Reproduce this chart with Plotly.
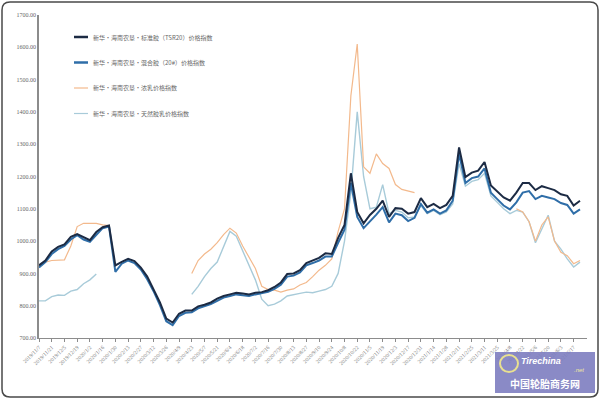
import pandas as pd
import plotly.graph_objects as go

# ---------------- data (weekly samples) ----------------
dates = pd.date_range("2019-11-07", periods=86, freq="7D")
categories = [f"{d.year}/{d.month}/{d.day}" for d in dates]
tick_labels = categories[::2]

series_names = [
    "新华·海南农垦·标准胶（TSR20）价格指数",
    "新华·海南农垦·混合胶（20#）价格指数",
    "新华·海南农垦·浓乳价格指数",
    "新华·海南农垦·天然胶乳价格指数",
]

tsr20 = [925, 940, 968, 982, 990, 1013, 1022, 1012, 1003, 1028,
         1043, 1048, 925, 936, 945, 938, 918, 890, 852, 810,
         760, 748, 775, 785, 785, 798, 803, 810, 822, 830,
         835, 840, 838, 835, 840, 842, 848, 858, 872, 898,
         900, 910, 932, 940, 948, 962, 960, 1010, 1050, 1210,
         1090, 1055, 1081, 1100, 1125, 1075, 1102, 1100, 1085, 1090,
         1133, 1105, 1115, 1102, 1112, 1140, 1290, 1198, 1212, 1218,
         1245, 1172, 1152, 1135, 1125, 1150, 1180, 1180, 1158, 1170,
         1164, 1158, 1145, 1140, 1110, 1125]

mix20 = [918, 935, 960, 975, 985, 1005, 1018, 1005, 998, 1020,
         1040, 1045, 905, 930, 940, 932, 912, 882, 845, 802,
         752, 740, 768, 778, 780, 792, 798, 805, 815, 825,
         830, 835, 832, 830, 835, 838, 843, 852, 865, 890,
         893, 903, 925, 932, 940, 952, 952, 995, 1035, 1180,
         1075, 1040, 1060, 1082, 1105, 1058, 1085, 1080, 1062, 1072,
         1115, 1088, 1098, 1085, 1095, 1125, 1270, 1180, 1195, 1200,
         1225, 1150, 1130, 1110, 1098, 1120, 1150, 1155, 1130, 1140,
         1135, 1130, 1118, 1112, 1085, 1098]

latex = [925, 935, 940, 940, 942, 985, 1045, 1055, 1055, 1055,
         1050, 1048, None, None, None, None, None, None, None, None,
         None, None, None, None, 900, 940, 960, 975, 995, 1020,
         1040, 1025, 985, 950, 915, 860, 850, 848, 842, 848,
         852, 864, 872, 890, 910, 925, 945, 1030, 1100, 1450,
         1610, 1230, 1210, 1270, 1240, 1225, 1175, 1160, 1155, 1150,
         None, None, None, None, None, None, None, None, None, None,
         None, None, None, None, None, 1100, 1090, 1060, 1000, 1050,
         1075, 1000, 965, 955, 930, 940]

nat_latex = [815, 815, 828, 833, 832, 845, 850, 868, 880, 898,
             None, None, None, None, None, None, None, None, None, None,
             None, None, None, None, 835, 860, 890, 915, 935, 980,
             1030, 1015, 970, 930, 880, 820, 800, 805, 815, 830,
             835, 838, 842, 840, 845, 850, 860, 900, 1000, 1150,
             1400, 1200, 1100, 1105, 1175, 1085, 1095, 1090, 1072, 1075,
             1110, 1085, 1095, 1082, 1090, 1115, 1240, 1170, 1185, 1190,
             1210, 1140, 1120, 1100, 1085, 1095, 1090, 1060, 995, 1040,
             1080, 1000, 975, 945, 920, 935]

y_ticks = [700, 800, 900, 1000, 1100, 1200, 1300, 1400, 1500, 1600, 1700]

# ---------------- styling ----------------
colors = ["#1c2b44", "#2f6ea8", "#f3b98c", "#a8cbd9"]
widths = [2.0, 2.0, 1.2, 1.4]

W, H = 600, 399
L, R, T, B = 39, 587, 15, 338

def px(x):
    return (x - L) / (R - L)

def py(y):
    return (B - y) / (B - T)

fig = go.Figure()
order = [3, 2, 1, 0]
all_series = [tsr20, mix20, latex, nat_latex]
for i in order:
    fig.add_trace(go.Scatter(
        x=categories, y=all_series[i], mode="lines", name=series_names[i],
        line=dict(color=colors[i], width=widths[i]), showlegend=False,
        hoverinfo="x+y+name"))

shapes = []
annotations = []
# manual legend
for i, name in enumerate(series_names):
    yy = 37 + 25.5 * i
    shapes.append(dict(type="line", xref="paper", yref="paper",
                       x0=px(74), x1=px(88), y0=py(yy), y1=py(yy),
                       line=dict(color=colors[i], width=2.5 if i < 2 else 1.2)))
    annotations.append(dict(xref="paper", yref="paper", x=px(91), y=py(yy),
                            xanchor="left", yanchor="middle", showarrow=False,
                            text=name, font=dict(size=6, color="#666666",
                                                 family="Noto Sans CJK SC")))

# outer rounded frame
x0, x1, y0, y1, r = 2, 598, 2, 397, 8
path = (f"M {px(x0 + r)},{py(y0)} L {px(x1 - r)},{py(y0)} "
        f"Q {px(x1)},{py(y0)} {px(x1)},{py(y0 + r)} "
        f"L {px(x1)},{py(y1 - r)} Q {px(x1)},{py(y1)} {px(x1 - r)},{py(y1)} "
        f"L {px(x0 + r)},{py(y1)} Q {px(x0)},{py(y1)} {px(x0)},{py(y1 - r)} "
        f"L {px(x0)},{py(y0 + r)} Q {px(x0)},{py(y0)} {px(x0 + r)},{py(y0)} Z")
shapes.append(dict(type="path", xref="paper", yref="paper", path=path,
                   line=dict(color="#4a4a4a", width=1.5), layer="above"))

# watermark box
shapes.append(dict(type="rect", xref="paper", yref="paper",
                   x0=px(495), x1=px(595), y0=py(393), y1=py(352),
                   fillcolor="rgba(125,125,192,0.9)", line=dict(width=0),
                   layer="above"))
shapes.append(dict(type="circle", xref="paper", yref="paper",
                   x0=px(500), x1=px(518), y0=py(372), y1=py(355),
                   line=dict(color="#e8e090", width=2), layer="above"))
annotations.append(dict(xref="paper", yref="paper", x=px(519), y=py(361),
                        xanchor="left", yanchor="middle", showarrow=False,
                        text="<i><b>Tirechina</b></i>",
                        font=dict(size=9, color="white", family="Liberation Sans")))
annotations.append(dict(xref="paper", yref="paper", x=px(572), y=py(370),
                        xanchor="left", yanchor="middle", showarrow=False,
                        text="<i>.net</i>",
                        font=dict(size=6, color="#f0e8a0", family="Liberation Sans")))
annotations.append(dict(xref="paper", yref="paper", x=px(545), y=py(383),
                        xanchor="center", yanchor="middle", showarrow=False,
                        text="<b>中国轮胎商务网</b>",
                        font=dict(size=10, color="white", family="Noto Sans CJK SC")))

fig.update_layout(
    width=W, height=H,
    margin=dict(l=L, r=W - R, t=T, b=H - B),
    paper_bgcolor="white", plot_bgcolor="white",
    shapes=shapes, annotations=annotations,
    font=dict(family="Liberation Serif", color="#666666"),
)
fig.update_xaxes(
    type="category", range=[0, 86.1],
    tickmode="array", tickvals=tick_labels, ticktext=tick_labels,
    tickangle=-45, tickfont=dict(size=5.5, color="#777777"),
    showgrid=False, zeroline=False,
    showline=True, linecolor="#8c8c8c", linewidth=1.2,
    ticks="outside", ticklen=3, tickcolor="#8c8c8c",
)
fig.update_yaxes(
    range=[700, 1700], tickmode="array", tickvals=y_ticks,
    ticktext=[f"{v:.2f}" for v in y_ticks],
    tickfont=dict(size=6, color="#666666"),
    showgrid=False, zeroline=False,
    showline=True, linecolor="#8c8c8c", linewidth=1.5, ticks="",
)

fig.write_html("out.html", config={"displayModeBar": False},
               post_script="document.body.style.margin='0';document.body.style.overflow='hidden';")
